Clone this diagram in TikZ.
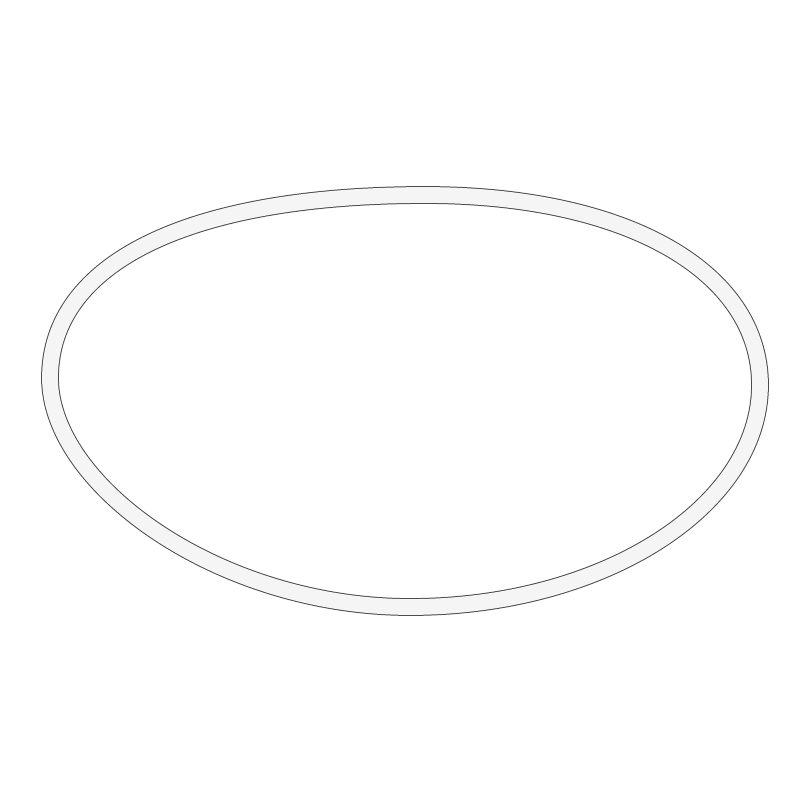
\documentclass[tikz,border=0pt]{standalone}
\begin{document}
\begin{tikzpicture}[x=1pt,y=-1pt,
  outerstroke/.style={line width=17.8pt, color=black!70},
  bandstroke/.style={line width=15.8pt, color=black!4}]
\useasboundingbox[fill=white] (0,0) rectangle (800,800);
\coordinate (L) at (50,378);
\coordinate (T) at (425,195);
\coordinate (R) at (760,385);
\coordinate (B) at (410,607);
\def\ringpath{(L) .. controls (50,262.7) and (188.75,195) .. (T)
  .. controls (626,195) and (760,271) .. (R)
  .. controls (760,507.1) and (602.5,607) .. (B)
  .. controls (219,607) and (50,485.4) .. (L) -- cycle}
\draw[outerstroke] \ringpath;
\draw[bandstroke] \ringpath;
\end{tikzpicture}
\end{document}
